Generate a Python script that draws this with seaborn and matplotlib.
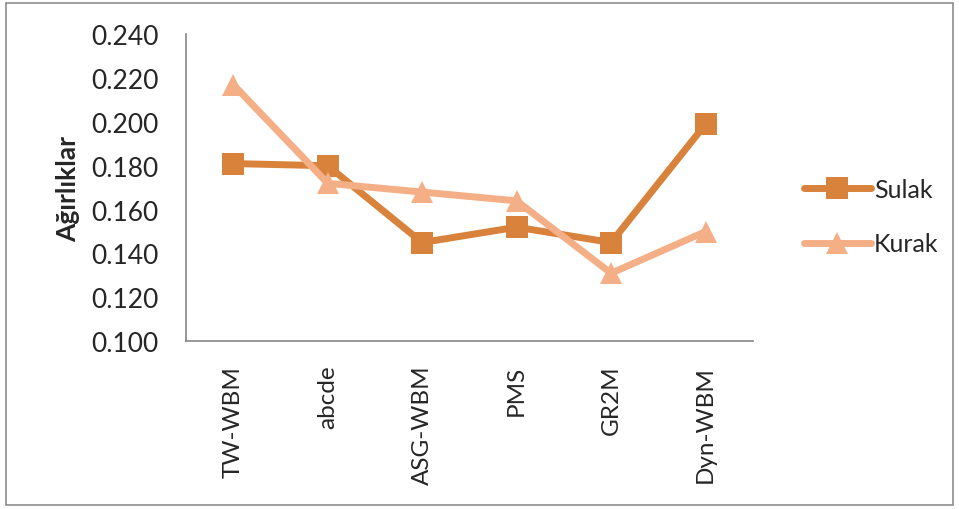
import seaborn as sns
import matplotlib.pyplot as plt
import pandas as pd
from matplotlib.patches import Rectangle

# Model names and weights
models = ['TW-WBM', 'abcde', 'ASG-WBM', 'PMS', 'GR2M', 'Dyn-WBM']
sulak = [0.181, 0.180, 0.145, 0.152, 0.145, 0.199]
kurak = [0.217, 0.172, 0.168, 0.164, 0.131, 0.150]
yticks = [0.100, 0.120, 0.140, 0.160, 0.180, 0.200, 0.220, 0.240]

df = pd.concat([
    pd.DataFrame({'model': models, 'weight': sulak, 'season': 'Sulak'}),
    pd.DataFrame({'model': models, 'weight': kurak, 'season': 'Kurak'}),
])

sns.set_style('white')
plt.rcParams['font.family'] = ['Lato', 'DejaVu Sans']

fig = plt.figure(figsize=(9.59, 5.10), dpi=100)
ax = fig.add_axes([0.194, 0.329, 0.591, 0.602])

colors = {'Sulak': '#D9823B', 'Kurak': '#F5AF86'}
sns.lineplot(data=df, x='model', y='weight', hue='season', style='season',
             markers={'Sulak': 's', 'Kurak': '^'}, dashes=False, palette=colors,
             linewidth=5, markersize=16, markeredgewidth=0, sort=False, ax=ax)

ax.set_xlim(-0.5, len(models) - 0.5)
ax.set_ylim(0.100, 0.240)
ax.set_yticks(yticks)
ax.set_yticklabels([f'{v:.3f}' for v in yticks], fontsize=19)
ax.set_xticks(range(len(models)))
ax.set_xticklabels(models, rotation=90, fontsize=17.5)
ax.tick_params(axis='y', length=0, pad=20)
ax.tick_params(axis='x', length=0, pad=17)
ax.set_xlabel('')
ax.set_ylabel('Ağırlıklar', fontsize=19, fontweight='bold', labelpad=8)

for s in ['top', 'right']:
    ax.spines[s].set_visible(False)
for s in ['left', 'bottom']:
    ax.spines[s].set_color('#868686')
    ax.spines[s].set_linewidth(1.2)

handles, labels = ax.get_legend_handles_labels()
ax.legend(handles, labels, loc='center left', bbox_to_anchor=(1.05, 0.405),
          frameon=False, fontsize=18, handlelength=2.7, handletextpad=0.1,
          labelspacing=1.25)

fig.patches.append(Rectangle((0.006, 0.008), 0.988, 0.985, transform=fig.transFigure,
                             fill=False, edgecolor='#8c8c8c', linewidth=1.2))

fig.savefig('out.png', dpi=100)
